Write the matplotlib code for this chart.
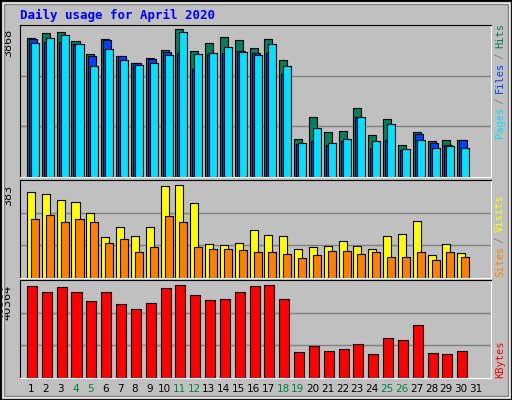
import matplotlib
matplotlib.use("Agg")
import matplotlib.pyplot as plt
from matplotlib.patches import Rectangle
import numpy as np

# Webalizer style daily usage, April 2020
days = list(range(1, 32))
hits = [3632, 3763, 3789, 3553, 3212, 3605, 3159, 2975, 3107, 3317, 3868, 3290, 3500, 3658, 3579,
        3369, 3605, 3054, 1006, 1558, 1164, 1190, 1794, 1085, 1505, 849, 1164, 928, 954, 980]
files = [3605, 3527, 3527, 3474, 3159, 3579, 3159, 2975, 3080, 3264, 3238, 2818, 3212, 3238, 3290,
         3238, 3238, 2687, 875, 928, 849, 928, 1558, 770, 954, 718, 1111, 901, 849, 954]
pages = [3500, 3632, 3710, 3474, 2897, 3343, 3054, 2923, 2975, 3185, 3789, 3212, 3238, 3395, 3264,
         3185, 3474, 2897, 901, 1269, 901, 1006, 1558, 928, 1374, 744, 954, 770, 823, 770]
visits = [354, 346, 321, 312, 266, 167, 212, 171, 208, 379, 383, 308, 142, 137, 146,
          196, 179, 171, 121, 129, 133, 154, 133, 121, 175, 183, 233, 96, 142, 104]
sites = [242, 258, 229, 242, 229, 146, 162, 108, 129, 254, 229, 129, 121, 121, 117,
         108, 108, 100, 83, 96, 112, 112, 100, 108, 87, 87, 108, 75, 108, 87]
kbytes = [39920, 37258, 39476, 37258, 33266, 37258, 31936, 30161, 32379, 39032, 40364, 35928, 33710, 34153, 37258,
          39920, 40364, 34153, 11089, 13750, 11532, 12419, 14637, 10202, 17298, 16411, 23065, 10645, 10202, 11532]
weekend = [4, 5, 11, 12, 18, 19, 25, 26]

W, H = 512, 400
bg = '#C0C0C0'
fig = plt.figure(figsize=(W / 100, H / 100), dpi=100, facecolor=bg)
mono = 'DejaVu Sans Mono'

# bevelled frame
fig.patches.append(Rectangle((0, 0), 1, 1, transform=fig.transFigure, fill=False, ec='black', lw=2))
fig.patches.append(Rectangle((3 / W, 3 / H), 1 - 6 / W, 1 - 6 / H, transform=fig.transFigure,
                             fill=False, ec='white', lw=1))
fig.patches.append(Rectangle((4 / W, 4 / H), 1 - 8 / W, 1 - 8 / H, transform=fig.transFigure,
                             fill=False, ec='#808080', lw=1))

fig.text(20 / W, 1 - 15 / H, 'Daily usage for April 2020', color='#0000FF', family=mono,
         weight='bold', fontsize=9, va='center')


def mkax(top, bottom):
    ax = fig.add_axes([20 / W, 1 - bottom / H, 471 / W, (bottom - top) / H])
    ax.set_facecolor(bg)
    ax.set_xlim(0.26, 32.0)
    ax.set_xticks([])
    ax.set_yticks([])
    for s in ['top', 'left']:
        ax.spines[s].set_color('black')
    for s in ['bottom', 'right']:
        ax.spines[s].set_color('white')
    for f in (1 / 3, 2 / 3):
        ax.plot([0, 1], [f, f], color='#808080', lw=1, transform=ax.transAxes, zorder=0)
    return ax


x = np.array(days[:30])
px = 14.83  # pixels per day

# hits / files / pages
ax1 = mkax(25, 177)
m = max(hits)
ax1.set_ylim(0, m * 152 / 148)
ax1.bar(x - 4 / px, hits, width=8 / px, align='edge', color='#00805C', ec='black', lw=0.8)
ax1.bar(x - 2 / px, files, width=8 / px, align='edge', color='#0040FF', ec='black', lw=0.8)
ax1.bar(x + 0 / px, pages, width=8 / px, align='edge', color='#00E0FF', ec='black', lw=0.8)
ax1.text(-0.015, m / ax1.get_ylim()[1], str(m), transform=ax1.transAxes, rotation=90,
         ha='right', va='top', fontsize=8, family='DejaVu Sans')

# visits / sites
ax2 = mkax(180, 278)
m = max(visits)
ax2.set_ylim(0, m * 98 / 93)
ax2.bar(x - 4 / px, visits, width=8 / px, align='edge', color='#FFFF00', ec='black', lw=0.8)
ax2.bar(x + 0 / px, sites, width=8 / px, align='edge', color='#FF8000', ec='black', lw=0.8)
ax2.text(-0.015, m / ax2.get_ylim()[1], str(m), transform=ax2.transAxes, rotation=90,
         ha='right', va='top', fontsize=8, family='DejaVu Sans')

# kbytes
ax3 = mkax(280, 378)
m = max(kbytes)
ax3.set_ylim(0, m * 98 / 93)
ax3.bar(x - 4 / px, kbytes, width=10 / px, align='edge', color='#FF0000', ec='black', lw=0.8)
ax3.text(-0.015, m / ax3.get_ylim()[1], str(m), transform=ax3.transAxes, rotation=90,
         ha='right', va='top', fontsize=8, family='DejaVu Sans')

# day labels
for d in days:
    xf = (20 + (d - 0.26) * px) / W
    fig.text(xf, 1 - 389 / H, str(d), ha='center', va='center', fontsize=7.5,
             color='#008040' if d in weekend else 'black')


def side_label(parts, ybottom):
    y = ybottom
    for txt, col in parts:
        fig.text(500 / W, y / H, txt, rotation=90, color=col, family=mono,
                 fontsize=7.5, ha='center', va='bottom')
        y += len(txt) * 5.6


side_label([('Pages', '#00E0FF'), (' / ', '#808080'), ('Files', '#0040FF'),
            (' / ', '#808080'), ('Hits', '#00805C')], 400 - 138)
side_label([('Sites', '#FF8000'), (' / ', '#808080'), ('Visits', '#FFFF00')], 400 - 277)
side_label([('KBytes', '#FF0000')], 400 - 378)

fig.savefig('out.png', dpi=100, facecolor=bg)
